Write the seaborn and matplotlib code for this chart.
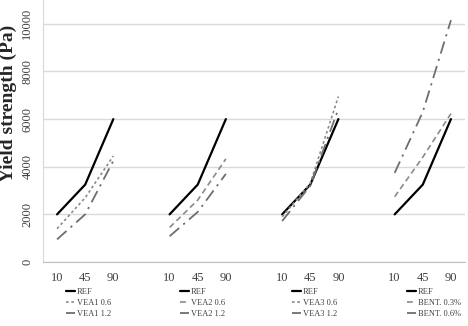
import pandas as pd
import matplotlib
matplotlib.use("Agg")
import matplotlib.pyplot as plt
import seaborn as sns
from matplotlib.lines import Line2D

# x categories (shared by every group)
x_labels = [10, 45, 90]

# yield strength (Pa)
ref = [2000, 3250, 6000]
vea1_06 = [1400, 2700, 4450]
vea1_12 = [950, 2000, 4250]
vea2_06 = [1450, 2600, 4330]
vea2_12 = [1080, 2100, 3700]
vea3_06 = [1900, 3300, 6950]
vea3_12 = [1720, 3200, 6430]
bent_03 = [2740, 4400, 6230]
bent_06 = [3740, 6300, 10150]

groups = [
    ["REF", "VEA1 0.6", "VEA1 1.2"],
    ["REF", "VEA2 0.6", "VEA2 1.2"],
    ["REF", "VEA3 0.6", "VEA3 1.2"],
    ["REF", "BENT. 0.3%", "BENT. 0.6%"],
]
group_values = [
    [ref, vea1_06, vea1_12],
    [ref, vea2_06, vea2_12],
    [ref, vea3_06, vea3_12],
    [ref, bent_03, bent_06],
]

sns.set_style("white")
plt.rcParams["font.family"] = ["Liberation Serif", "DejaVu Serif"]

fig = plt.figure(figsize=(4.68, 3.26), dpi=100)
ax = fig.add_axes([43 / 468, 64 / 326, 422 / 468, 262 / 326])

# line styles: REF, second series, third series
styles = [
    dict(color="black", lw=1.6, dashes=None),
    dict(color="#8a8a8a", lw=1.2, dashes=(2.0, 1.5)),
    dict(color="#6e6e6e", lw=1.3, dashes=(7, 3, 1.2, 3)),
]
second_dashes = [(1.6, 1.6), (3.5, 2.2), (1.6, 1.6), (3.5, 2.2)]

rows = []
for g, (names, vals) in enumerate(zip(groups, group_values)):
    for s, (name, v) in enumerate(zip(names, vals)):
        for i, (xl, y) in enumerate(zip(x_labels, v)):
            rows.append(dict(group=g, series=s, name=name, pos=4 * g + i, xl=xl, value=y))
df = pd.DataFrame(rows)

legend_x = [66, 180, 292, 407]
for g in range(len(groups)):
    handles = []
    for s in range(3):
        sub = df[(df.group == g) & (df.series == s)]
        st = dict(styles[s])
        if s == 1:
            st["dashes"] = second_dashes[g]
        sns.lineplot(data=sub, x="pos", y="value", ax=ax, color=st["color"],
                     lw=st["lw"], legend=False)
        line = ax.lines[-1]
        h = Line2D([], [], color=st["color"], lw=st["lw"])
        if st["dashes"] is not None:
            line.set_dashes(st["dashes"])
            h.set_dashes(st["dashes"])
        handles.append(h)
    leg = fig.legend(handles, groups[g], loc="upper left",
                     bbox_to_anchor=(legend_x[g] / 468, 1 - 288 / 326),
                     frameon=False, fontsize=6, handlelength=1.1, handletextpad=0.2,
                     labelspacing=0.35, borderpad=0, borderaxespad=0)
    for t in leg.get_texts():
        t.set_color("#404040")

ax.set_xlim(-0.5, 14.5)
ax.set_ylim(0, 11000)

pos = df.drop_duplicates("pos").sort_values("pos")
ax.set_xticks(pos["pos"])
ax.set_xticklabels(pos["xl"], fontsize=9, color="#404040")
ax.set_xticks([k - 0.5 for k in range(16)], minor=True)
ax.tick_params(axis="x", which="major", length=0, pad=7)
ax.tick_params(axis="x", which="minor", length=4, color="#bfbfbf", width=0.8)

ax.set_yticks(range(0, 10001, 2000))
ax.set_yticklabels([str(v) for v in range(0, 10001, 2000)], rotation=90,
                   va="center", fontsize=9, color="#404040")
ax.tick_params(axis="y", length=0, pad=7)
ax.yaxis.grid(True, color="#d9d9d9", lw=1)
ax.set_axisbelow(True)

for side in ["top", "right"]:
    ax.spines[side].set_visible(False)
ax.spines["left"].set_color("#d9d9d9")
ax.spines["bottom"].set_color("#bfbfbf")

ax.set_xlabel("")
ax.set_ylabel("Yield strength (Pa)", fontsize=14, fontweight="bold", color="#262626")
ax.yaxis.set_label_coords(-0.062, 0.605)

fig.savefig("out.png", dpi=100)
